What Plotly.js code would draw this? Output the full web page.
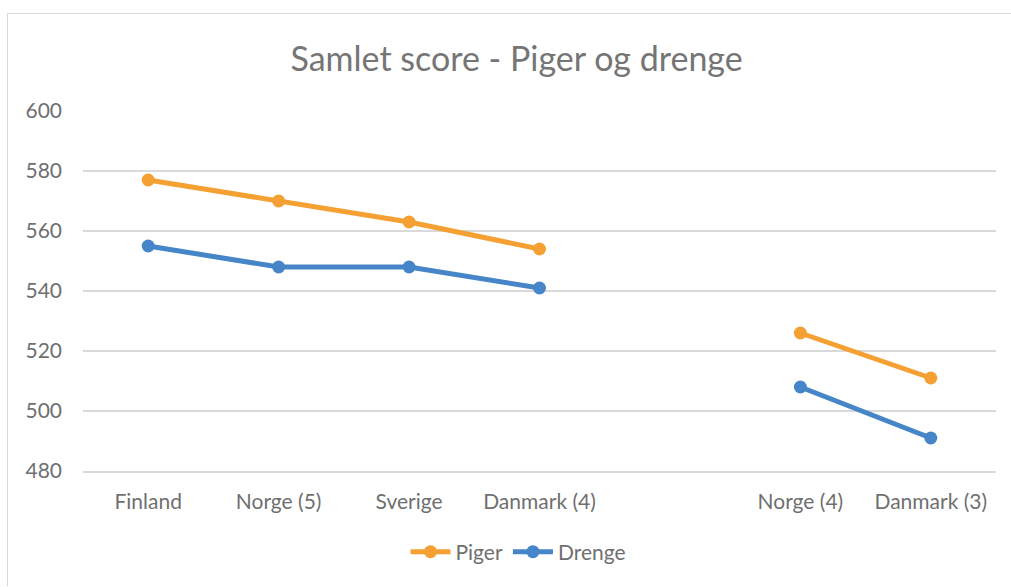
<!DOCTYPE html>
<html>
<head>
<meta charset="utf-8">
<script src="https://cdn.plot.ly/plotly-3.0.1.min.js"></script>
<style>
html,body{margin:0;padding:0;background:#fff;}
#wrap{position:relative;width:1011px;height:587px;overflow:hidden;}
#frame{position:absolute;left:7px;top:13px;width:1020px;height:572px;border-left:1.5px solid #d9d9d9;border-top:1.5px solid #d9d9d9;}
#chart{position:absolute;left:0;top:0;width:1011px;height:587px;}
</style>
</head>
<body>
<div id="wrap"><div id="frame"></div><div id="chart"></div></div>
<script>
var categories = ["Finland", "Norge (5)", "Sverige", "Danmark (4)", " ", "Norge (4)", "Danmark (3)"];
var piger = [577, 570, 563, 554, null, 526, 511];
var drenge = [555, 548, 548, 541, null, 508, 491];
var yTicks = [480, 500, 520, 540, 560, 580, 600];

var font = "Lato, 'Open Sans', sans-serif";
var traces = [
  {x: categories, y: piger, name: "Piger", type: "scatter", mode: "lines+markers",
   line: {color: "#F5A032", width: 5}, marker: {color: "#F5A032", size: 13}, connectgaps: false},
  {x: categories, y: drenge, name: "Drenge", type: "scatter", mode: "lines+markers",
   line: {color: "#4686C8", width: 5}, marker: {color: "#4686C8", size: 13}, connectgaps: false}
];
var layout = {
  width: 1011, height: 587,
  paper_bgcolor: "rgba(0,0,0,0)", plot_bgcolor: "rgba(0,0,0,0)",
  margin: {l: 83, r: 15, t: 111, b: 116},
  title: {text: "Samlet score - Piger og drenge", x: 0.511, xanchor: "center", y: 0.9, yanchor: "middle",
          font: {family: font, size: 34, color: "#757575"}},
  xaxis: {type: "category", categoryorder: "array", categoryarray: categories, range: [-0.5, 6.5],
          tickfont: {family: font, size: 21, color: "#6f6f6f"}, showgrid: false, ticklabelstandoff: 11,
          showline: true, linecolor: "#d9d9d9", linewidth: 2, ticks: "", zeroline: false},
  yaxis: {range: [480, 600], tickvals: yTicks, ticktext: yTicks.map(String),
          tickfont: {family: font, size: 21, color: "#6f6f6f"}, showgrid: true, gridcolor: "#d9d9d9",
          gridwidth: 1.5, zeroline: false, ticks: "", ticklabelstandoff: 20, showline: false},
  showlegend: true,
  legend: {orientation: "h", x: 0.477, xanchor: "center", y: -0.225, yanchor: "middle",
           font: {family: font, size: 21, color: "#6f6f6f"}, itemwidth: 40},
  hovermode: false
};
Plotly.newPlot("chart", traces, layout, {displayModeBar: false, staticPlot: true});
</script>
</body>
</html>
